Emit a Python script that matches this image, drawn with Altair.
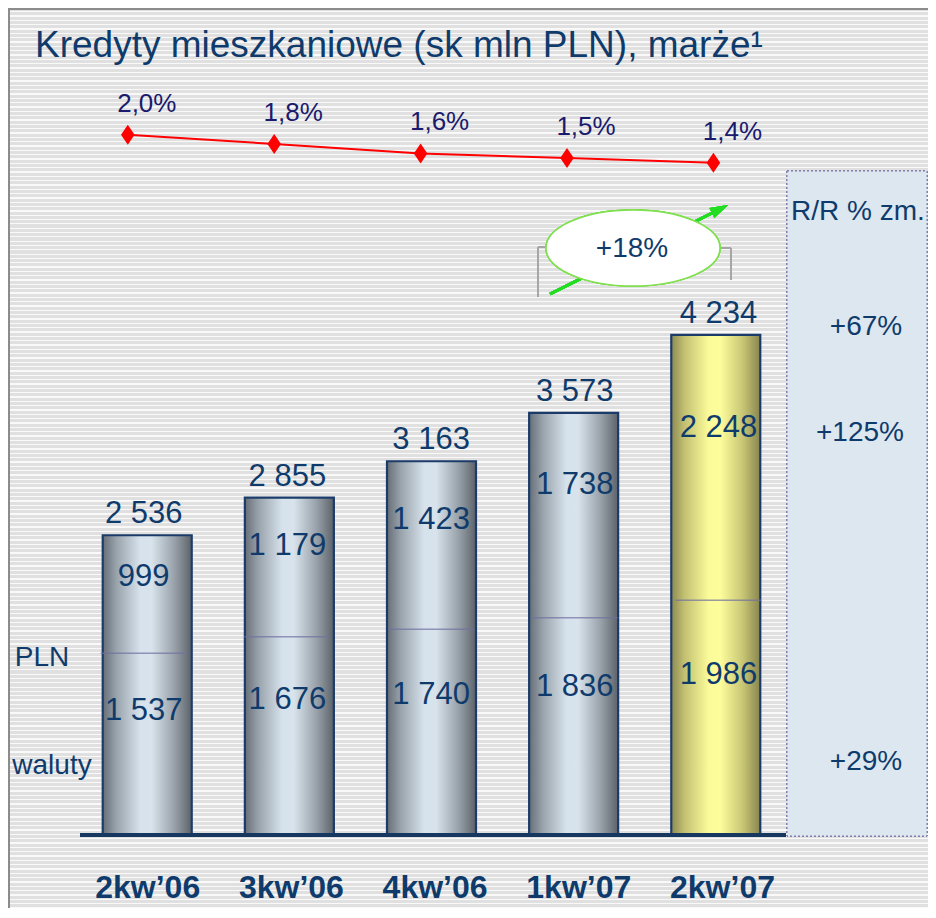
import altair as alt
import pandas as pd

# ---------------- data ----------------
categories = ["2kw\u201906", "3kw\u201906", "4kw\u201906", "1kw\u201907", "2kw\u201907"]
pln = [999, 1179, 1423, 1738, 2248]
waluty = [1537, 1676, 1740, 1836, 1986]
totals = [2536, 2855, 3163, 3573, 4234]
margins = [2.0, 1.8, 1.6, 1.5, 1.4]
highlight = [False, False, False, False, True]
rr_header = "R/R % zm."
rr_labels = ["+67%", "+125%", "+29%"]
qoq_label = "+18%"
series_labels = ["PLN", "waluty"]
title_text = "Kredyty mieszkaniowe (sk mln PLN), marże\u00b9"


def fmt(v):
    return f"{v:,}".replace(",", " ")


df = pd.DataFrame({
    "i": list(range(len(categories))),
    "cat": categories,
    "pln": pln,
    "wal": waluty,
    "total": totals,
    "total_lbl": [fmt(v) for v in totals],
    "pln_lbl": [fmt(v) for v in pln],
    "wal_lbl": [fmt(v) for v in waluty],
    "m": margins,
    "m_lbl": [f"{m:.1f}%".replace(".", ",") for m in margins],
    "hl": highlight,
})

# ---------------- style ----------------
W, H = 920, 900
NAVY = "#0f3b6c"
INDIGO = "#1a1a6e"
FONT = "Liberation Sans"

xs = alt.Scale(domain=[-0.9443, 5.4579], nice=False, zero=False)
ys = alt.Scale(domain=[-622.9, 7004.2], nice=False, zero=False)
xm = alt.Scale(domain=[-0.8183, 5.4658], nice=False, zero=False)
ym = alt.Scale(domain=[-14.489, 4.7005], nice=False, zero=False)

# striped background
period, white = 4.33, 1.3
stops = []
yy = 0.0
while yy < H:
    y1 = min(yy + period - white, H)
    y2 = min(yy + period, H)
    stops += [alt.GradientStop(offset=yy / H, color="#e0e0e0"),
              alt.GradientStop(offset=y1 / H, color="#e0e0e0"),
              alt.GradientStop(offset=y1 / H, color="#f9f9f9"),
              alt.GradientStop(offset=y2 / H, color="#f9f9f9")]
    yy += period
stripe = alt.Gradient(gradient="linear", stops=stops, x1=0, x2=0, y1=0, y2=1)

gray_grad = alt.Gradient(gradient="linear", x1=0, x2=1, y1=0, y2=0, stops=[
    alt.GradientStop(offset=0, color="#666e77"),
    alt.GradientStop(offset=0.15, color="#98a2ab"),
    alt.GradientStop(offset=0.42, color="#d6e2ec"),
    alt.GradientStop(offset=0.55, color="#d8e3ec"),
    alt.GradientStop(offset=0.8, color="#9aa3ab"),
    alt.GradientStop(offset=1, color="#5c626a"),
])
yellow_grad = alt.Gradient(gradient="linear", x1=0, x2=1, y1=0, y2=0, stops=[
    alt.GradientStop(offset=0, color="#8d8a52"),
    alt.GradientStop(offset=0.15, color="#c3c172"),
    alt.GradientStop(offset=0.42, color="#fbfb9a"),
    alt.GradientStop(offset=0.55, color="#fdfd9c"),
    alt.GradientStop(offset=0.8, color="#c9c775"),
    alt.GradientStop(offset=1, color="#88854f"),
])

base = alt.Chart(df)
X = alt.X("i:Q", scale=xs, axis=None)

background = base.mark_rect(fill=stripe).encode(
    x=alt.value(0), x2=alt.value(W), y=alt.value(0), y2=alt.value(H))
frame_top = base.mark_rule(color="#8c8c8c", strokeWidth=2).encode(
    x=alt.value(0), x2=alt.value(W), y=alt.value(1))
frame_left = base.mark_rule(color="#8c8c8c", strokeWidth=2).encode(
    x=alt.value(1), y=alt.value(0), y2=alt.value(H))

panel = base.mark_rect(fill="#dde7ef", stroke="#7c7cae", strokeWidth=1,
                       strokeDash=[2, 2]).encode(
    x=alt.value(779), x2=alt.value(919), y=alt.value(163), y2=alt.value(828))

bars_gray = base.transform_filter("!datum.hl").mark_bar(
    width=89, fill=gray_grad, stroke="#1b3c6a", strokeWidth=2.2).encode(
    x=X, y=alt.Y("total:Q", scale=ys, axis=None), y2=alt.datum(0))
bars_yel = base.transform_filter("datum.hl").mark_bar(
    width=89, fill=yellow_grad, stroke="#1b3c6a", strokeWidth=2.2).encode(
    x=X, y=alt.Y("total:Q", scale=ys, axis=None), y2=alt.datum(0))
divider = base.mark_tick(orient="horizontal", size=86, thickness=1.5,
                         color="#7070a0").encode(
    x=X, y=alt.Y("wal:Q", scale=ys, axis=None))
axis_line = base.mark_rule(color="#16375f", strokeWidth=4).encode(
    x=alt.value(72), x2=alt.value(778), y=alt.value(827))

total_txt = base.mark_text(font=FONT, fontSize=31, color=NAVY, baseline="middle",
                           dy=-21).encode(
    x=X, y=alt.Y("total:Q", scale=ys, axis=None), text="total_lbl:N")
pln_txt = base.transform_calculate(pos="datum.wal + 0.65*datum.pln").mark_text(
    font=FONT, fontSize=31, color=NAVY, baseline="middle").encode(
    x=X, y=alt.Y("pos:Q", scale=ys, axis=None), text="pln_lbl:N")
wal_txt = base.transform_calculate(pos="0.68*datum.wal").mark_text(
    font=FONT, fontSize=31, color=NAVY, baseline="middle").encode(
    x=X, y=alt.Y("pos:Q", scale=ys, axis=None), text="wal_lbl:N")

XM = alt.X("i:Q", scale=xm, axis=None)
YM = alt.Y("m:Q", scale=ym, axis=None)
m_line = base.mark_line(color="#ff0000", strokeWidth=2).encode(x=XM, y=YM)
m_pts = base.mark_point(shape="M 0 -1 L 0.68 0 L 0 1 L -0.68 0 Z", size=400,
                        filled=True, color="#ff0000", opacity=1).encode(x=XM, y=YM)
m_txt = base.mark_text(font=FONT, fontSize=26, color=INDIGO, dx=19, dy=-23,
                       baseline="alphabetic").encode(x=XM, y=YM, text="m_lbl:N")

arrow_line = base.mark_rule(color="#22dd22", strokeWidth=3).encode(
    x=alt.value(542), y=alt.value(286), x2=alt.value(712), y2=alt.value(201))
br_style = dict(color="#a6a6a6", strokeWidth=1.5)
br1 = base.mark_rule(**br_style).encode(x=alt.value(530), y=alt.value(239), y2=alt.value(289))
br2 = base.mark_rule(**br_style).encode(x=alt.value(530), x2=alt.value(540), y=alt.value(239))
br3 = base.mark_rule(**br_style).encode(x=alt.value(723), y=alt.value(240), y2=alt.value(272))
br4 = base.mark_rule(**br_style).encode(x=alt.value(712), x2=alt.value(723), y=alt.value(240))
ellipse = base.mark_point(shape="M -1 0 A 1 0.437 0 1 0 1 0 A 1 0.437 0 1 0 -1 0 Z",
                          size=174 * 174, filled=True, fill="white", stroke="#80e050",
                          strokeWidth=1.5, opacity=1).encode(
    x=alt.value(625), y=alt.value(240))
arrow_head = base.mark_point(shape="M 1 0 L -1 -0.62 L -1 0.62 Z", size=324, angle=334,
                             filled=True, color="#22dd22", opacity=1).encode(
    x=alt.value(712), y=alt.value(201))

ann_df = pd.DataFrame({"t": [qoq_label]})
qoq_txt = alt.Chart(ann_df).mark_text(font=FONT, fontSize=28, color=NAVY,
                                      baseline="middle").encode(
    x=alt.value(624), y=alt.value(241), text="t:N")

rr_df = pd.DataFrame({"t": [rr_header] + rr_labels,
                      "px": [850, 858, 852, 858],
                      "py": [204, 319, 425, 754]})
rr_txt = alt.Chart(rr_df).mark_text(font=FONT, fontSize=28, color=NAVY,
                                    baseline="middle").encode(
    x=alt.X("px:Q", scale=None), y=alt.Y("py:Q", scale=None), text="t:N")

ser_df = pd.DataFrame({"t": series_labels, "px": [34, 44], "py": [650, 758]})
ser_txt = alt.Chart(ser_df).mark_text(font=FONT, fontSize=28, color=NAVY,
                                      baseline="middle").encode(
    x=alt.X("px:Q", scale=None), y=alt.Y("py:Q", scale=None), text="t:N")

title_df = pd.DataFrame({"t": [title_text]})
title = alt.Chart(title_df).mark_text(font=FONT, fontSize=37, color=NAVY,
                                      align="left", baseline="alphabetic").encode(
    x=alt.value(27), y=alt.value(49), text="t:N")

cat_txt = base.mark_text(font=FONT, fontSize=32, fontWeight="bold",
                         color=NAVY, baseline="middle", dx=4).encode(
    x=X, y=alt.value(880), text="cat:N")

chart = alt.layer(
    background, frame_top, frame_left, panel,
    bars_gray, bars_yel, divider, axis_line,
    total_txt, pln_txt, wal_txt,
    m_line, m_pts, m_txt,
    arrow_line, br1, br2, br3, br4, ellipse, arrow_head, qoq_txt,
    rr_txt, ser_txt, title, cat_txt,
).resolve_scale(x="independent", y="independent").properties(
    width=W, height=H, padding=0,
    autosize=alt.AutoSizeParams(type="none"),
).configure_view(stroke=None)

chart.save("out.html", embed_options={"renderer": "svg", "actions": False})
